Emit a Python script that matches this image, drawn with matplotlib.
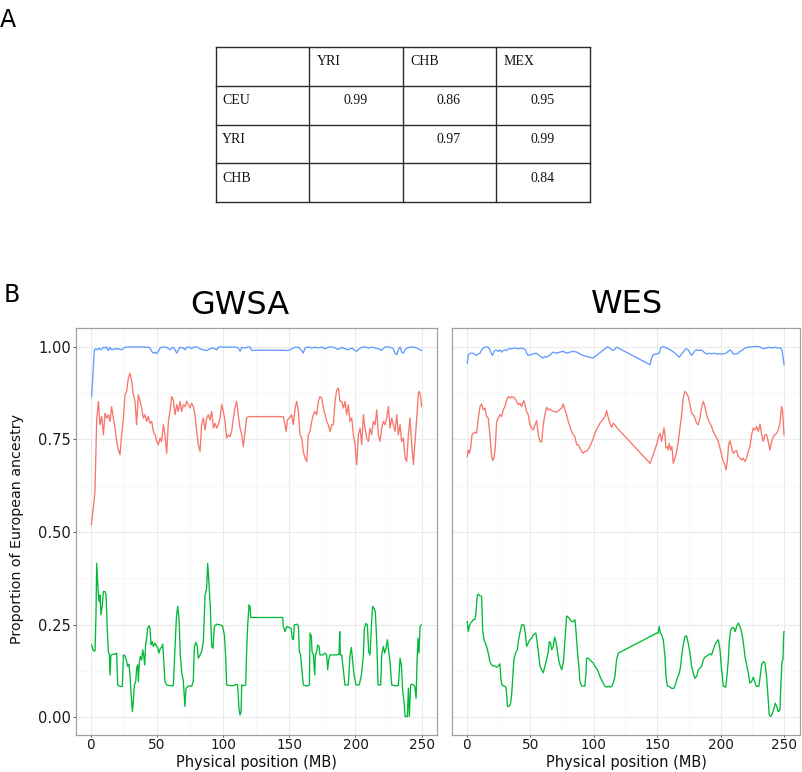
import matplotlib
matplotlib.use("Agg")
import matplotlib.pyplot as plt
from matplotlib.ticker import MultipleLocator, FormatStrFormatter

# ---------------- Panel A: table data ----------------
table_header = ["", "YRI", "CHB", "MEX"]
table_rows = ["CEU", "YRI", "CHB"]
table_values = [["0.99", "0.86", "0.95"],
                ["", "0.97", "0.99"],
                ["", "", "0.84"]]

# ---------------- Panel B: GWSA ----------------
gwsa_red_x = [0.5, 3.2, 4.5,
              5.8, 7.0, 8.3, 9.6, 10.8, 12.1, 13.3, 14.6, 15.8, 17.1,
              18.4, 19.6, 20.9, 22.1, 23.4, 24.7, 25.9, 27.2, 28.4, 29.7,
              31.0, 32.2, 33.5, 34.7, 36.0, 37.3, 38.5, 39.8, 41.0, 42.3,
              43.5, 44.8, 46.1, 47.3, 48.6, 49.8, 51.1, 52.4, 53.6, 54.9,
              56.1, 57.4, 58.7, 59.9, 61.2, 62.4, 63.7, 65.0, 66.2, 67.5,
              68.7, 70.0, 71.3, 72.5, 73.8, 75.0, 76.3, 77.5, 78.8, 80.1,
              81.3, 82.6, 83.8, 85.1, 86.4, 87.6, 88.9, 90.1, 91.4, 92.7,
              93.9, 95.2, 96.4, 97.7, 99.0, 100.2, 101.5, 102.7, 104.0, 105.2,
              106.5, 107.8, 109.0, 110.3, 111.5, 112.8, 114.1, 115.3, 116.6, 117.8,
              119.1,
              145.5, 146.8, 147.6, 148.6, 150.1, 151.8,
              153.1, 154.4, 155.6, 156.9, 158.1, 159.4, 160.6, 161.9, 163.2, 164.4,
              165.7, 166.9, 168.2, 169.5, 170.7, 172.0, 173.2, 174.5, 175.8, 177.0,
              178.3, 179.5, 180.8, 182.1, 183.3, 184.6, 185.8, 187.1, 188.3, 189.6,
              190.9, 192.1, 193.4, 194.6, 195.9, 197.2, 198.4, 199.7, 200.9, 202.2,
              203.5, 204.7, 206.0, 207.2, 208.5, 209.8, 211.0, 212.3, 213.5, 214.8,
              216.1, 217.3, 218.6, 219.8, 221.1, 222.3, 223.6, 224.9, 226.1, 227.4,
              228.6, 229.9, 231.2, 232.4, 233.7, 234.9, 236.2, 237.5, 238.7, 240.0,
              241.2, 242.5, 243.8, 245.0, 246.3, 247.5,
              248.3, 249.3, 250.0]
gwsa_red_y = [0.520, 0.605, 0.800,
              0.852, 0.789, 0.811, 0.762, 0.820, 0.807, 0.816, 0.798, 0.838, 0.807,
              0.780, 0.744, 0.721, 0.708, 0.762, 0.807, 0.870, 0.879, 0.915, 0.928,
              0.906, 0.870, 0.852, 0.789, 0.870, 0.852, 0.834, 0.807, 0.816, 0.798,
              0.811, 0.793, 0.798, 0.771, 0.762, 0.744, 0.735, 0.753, 0.744, 0.789,
              0.762, 0.712, 0.798, 0.825, 0.865, 0.856, 0.816, 0.843, 0.825, 0.852,
              0.825, 0.843, 0.838, 0.852, 0.843, 0.834, 0.847, 0.838, 0.816, 0.771,
              0.735, 0.717, 0.789, 0.807, 0.775, 0.807, 0.816, 0.802, 0.825, 0.780,
              0.793, 0.780, 0.789, 0.807, 0.843, 0.825, 0.798, 0.753, 0.762, 0.757,
              0.771, 0.807, 0.834, 0.852, 0.816, 0.780, 0.762, 0.730, 0.771, 0.807,
              0.811,
              0.811, 0.789, 0.771, 0.802, 0.807, 0.816,
              0.789, 0.834, 0.852, 0.825, 0.762, 0.753, 0.717, 0.699, 0.690, 0.762,
              0.771, 0.798, 0.816, 0.825, 0.816, 0.852, 0.865, 0.861, 0.834, 0.816,
              0.798, 0.789, 0.771, 0.789, 0.789, 0.852, 0.883, 0.888, 0.852, 0.852,
              0.834, 0.852, 0.816, 0.843, 0.798, 0.807, 0.762, 0.735, 0.681, 0.762,
              0.780, 0.735, 0.816, 0.780, 0.753, 0.744, 0.780, 0.762, 0.798, 0.789,
              0.829, 0.762, 0.744, 0.780, 0.798, 0.789, 0.807, 0.838, 0.780, 0.807,
              0.789, 0.771, 0.816, 0.762, 0.789, 0.744, 0.753, 0.699, 0.690, 0.762,
              0.807, 0.735, 0.681, 0.744, 0.807, 0.874,
              0.879, 0.861, 0.838]

gwsa_blue_x = [0.7, 2.8, 3.8, 5.3, 6.3, 7.8, 9.6, 10.8, 12.1, 13.3,
               14.6, 15.8, 18.4, 20.9, 23.4, 25.9, 28.4, 33.5, 38.5, 43.5,
               44.8, 46.1, 47.3, 48.6, 49.8, 51.1, 52.4, 54.9, 57.4, 59.9,
               61.2, 62.4, 63.7, 65.0, 66.2, 67.5, 70.0, 71.3, 72.5, 75.0,
               76.3, 77.5, 80.1, 82.6, 85.1, 87.6, 90.1, 92.7, 95.2, 96.4,
               99.0, 101.5, 104.0, 106.5, 109.0, 111.5, 112.8, 114.1, 116.6, 119.1,
               120.4, 121.6,
               145.5, 148.1, 150.6, 153.1, 154.4, 156.9, 158.1, 159.4, 160.6, 161.9,
               164.4, 166.9, 169.5, 172.0, 174.5, 177.0, 179.5, 182.1, 184.6, 187.1,
               189.6, 192.1, 194.6, 197.2, 199.7, 200.9, 202.2, 204.7, 207.2, 209.8,
               212.3, 214.8, 217.3, 219.8, 222.3, 224.9, 227.4, 228.6, 229.9, 231.2,
               232.4, 233.7, 234.9, 236.2, 237.5, 238.7, 241.2, 243.8, 246.3, 248.8,
               250.0]
gwsa_blue_y = [0.865, 0.991, 0.994, 0.991, 0.996, 0.991, 0.998, 0.996, 0.999, 0.989,
               0.998, 0.991, 0.994, 0.994, 0.991, 0.998, 0.999, 0.999, 0.999, 0.998,
               0.996, 0.987, 0.982, 0.985, 0.981, 0.987, 0.996, 0.999, 0.998, 0.991,
               0.996, 0.998, 0.991, 0.982, 0.991, 0.998, 0.996, 0.991, 0.998, 0.998,
               0.994, 0.998, 0.999, 0.994, 0.991, 0.989, 0.994, 0.996, 0.991, 0.998,
               0.999, 0.998, 0.999, 0.998, 0.999, 0.996, 0.987, 0.998, 0.996, 0.999,
               0.998, 0.990,
               0.990, 0.989, 0.991, 0.996, 0.998, 0.998, 0.994, 0.989, 0.982, 0.996,
               0.999, 0.996, 0.998, 0.996, 0.999, 0.994, 0.998, 0.999, 0.996, 0.992,
               0.998, 0.994, 0.991, 0.996, 0.989, 0.987, 0.992, 0.998, 0.999, 0.996,
               0.998, 0.996, 0.994, 0.990, 0.999, 0.999, 0.996, 0.994, 0.982, 0.978,
               0.991, 0.999, 0.985, 0.982, 0.991, 0.996, 0.998, 0.999, 0.996, 0.991,
               0.990]

gwsa_green_x = [0.7, 2.0, 3.3, 4.0, 4.5, 5.8, 6.3, 7.0, 7.8, 8.8,
                9.6, 10.8, 11.6, 12.3, 13.3, 14.1, 14.6, 15.3, 17.1, 18.4,
                19.6, 20.4, 22.1, 23.9, 24.7, 25.9, 27.2, 27.9, 28.9, 29.7,
                30.4, 31.5, 32.2, 33.0, 34.0, 34.7, 35.5, 36.0, 36.7, 37.5,
                38.5, 39.3, 40.0, 40.8, 41.5, 42.3, 43.0, 44.0, 44.8, 45.6,
                46.6, 47.3, 48.6, 49.8, 50.6, 51.6, 52.6, 53.6, 54.4, 55.1,
                56.1, 57.4, 59.9, 62.4, 63.7, 64.7, 65.7, 66.7, 67.7, 68.7,
                70.0, 71.2, 72.0, 73.8, 76.3, 77.5, 78.3, 79.3, 80.3, 81.3,
                82.6, 83.8, 85.1, 86.4, 87.6, 88.4, 89.4, 90.4, 91.4, 92.4,
                93.4, 95.2, 97.7, 99.5, 101.0, 102.0, 102.7, 105.2, 107.8, 110.3,
                111.0, 112.0, 112.8, 113.6, 114.1, 115.3, 117.1, 117.8, 118.6, 119.6,
                120.4, 120.9,
                145.0, 145.5, 146.8, 148.1, 150.1, 151.3, 152.3, 153.1, 153.8, 155.6,
                156.9, 157.6, 158.6, 159.4, 160.6, 163.2, 165.2, 165.7, 166.7, 167.2,
                168.2, 169.2, 169.7, 170.7, 171.5, 172.5, 173.2, 175.3, 177.0, 178.3,
                179.0, 179.8, 180.8, 183.3, 185.8, 187.6, 188.1, 188.6, 189.6, 192.1,
                194.6, 195.9, 196.9, 197.9, 198.9, 200.4, 202.9, 204.5, 206.0, 206.7,
                208.0, 209.0, 210.0, 211.0, 212.3, 213.0, 214.0, 215.0, 216.1, 217.1,
                219.1, 219.8, 221.1, 222.1, 223.1, 224.1, 225.1, 226.1, 227.4, 229.9,
                232.4, 233.7, 234.7, 235.7, 236.7, 237.5, 239.2, 240.0, 240.7, 241.7,
                242.8, 243.8, 244.8, 245.8, 246.5, 247.3, 248.0, 248.8, 249.8]
gwsa_green_y = [0.195, 0.179, 0.179, 0.276, 0.415, 0.330, 0.312, 0.330, 0.276, 0.303,
                0.339, 0.339, 0.330, 0.258, 0.177, 0.168, 0.114, 0.168, 0.170, 0.170,
                0.173, 0.087, 0.083, 0.083, 0.168, 0.166, 0.150, 0.137, 0.143, 0.114,
                0.069, 0.015, 0.042, 0.087, 0.096, 0.132, 0.141, 0.096, 0.146, 0.164,
                0.155, 0.182, 0.168, 0.141, 0.195, 0.213, 0.240, 0.247, 0.240, 0.195,
                0.204, 0.191, 0.200, 0.191, 0.188, 0.173, 0.186, 0.188, 0.197, 0.159,
                0.096, 0.087, 0.085, 0.085, 0.186, 0.267, 0.299, 0.267, 0.168, 0.123,
                0.096, 0.029, 0.078, 0.084, 0.084, 0.096, 0.188, 0.202, 0.195, 0.159,
                0.168, 0.177, 0.204, 0.330, 0.348, 0.415, 0.357, 0.294, 0.191, 0.186,
                0.245, 0.251, 0.249, 0.247, 0.222, 0.159, 0.087, 0.085, 0.085, 0.089,
                0.087, 0.024, 0.006, 0.015, 0.087, 0.085, 0.087, 0.177, 0.249, 0.303,
                0.299, 0.269,
                0.269, 0.245, 0.231, 0.245, 0.242, 0.240, 0.213, 0.209, 0.249, 0.251,
                0.247, 0.177, 0.168, 0.132, 0.087, 0.084, 0.087, 0.227, 0.218, 0.177,
                0.168, 0.114, 0.168, 0.177, 0.195, 0.191, 0.168, 0.168, 0.173, 0.168,
                0.128, 0.155, 0.168, 0.168, 0.168, 0.170, 0.231, 0.168, 0.168, 0.087,
                0.087, 0.168, 0.188, 0.150, 0.114, 0.087, 0.087, 0.114, 0.168, 0.240,
                0.253, 0.249, 0.177, 0.168, 0.263, 0.299, 0.294, 0.285, 0.204, 0.087,
                0.087, 0.168, 0.191, 0.173, 0.186, 0.209, 0.177, 0.150, 0.087, 0.085,
                0.085, 0.159, 0.141, 0.069, 0.042, 0.002, 0.002, 0.078, 0.002, 0.087,
                0.089, 0.087, 0.083, 0.051, 0.150, 0.213, 0.173, 0.245, 0.249]

# ---------------- Panel B: WES (position MB, proportion) ----------------
wes_blue = [(0.5, 0.955), (1.3, 0.978), (2.6, 0.982), (5.2, 0.982), (6.5, 0.978),
            (7.8, 0.976), (9.2, 0.980), (10.5, 0.982), (11.8, 0.991), (13.1, 0.996),
            (14.4, 0.998), (15.7, 0.999), (17.0, 0.998), (18.3, 0.991), (19.6, 0.980),
            (20.4, 0.976), (21.5, 0.987), (23.1, 0.991), (24.9, 0.987), (26.2, 0.991),
            (27.5, 0.985), (28.8, 0.989), (30.1, 0.991), (31.5, 0.989), (32.8, 0.994),
            (35.4, 0.994), (38.0, 0.996), (40.6, 0.994), (43.3, 0.996), (45.1, 0.994),
            (46.4, 0.991), (47.2, 0.982), (48.5, 0.976), (50.3, 0.978), (52.4, 0.980),
            (54.5, 0.982), (56.4, 0.978), (58.2, 0.973), (59.8, 0.969), (61.6, 0.973),
            (62.9, 0.971), (64.3, 0.975), (65.6, 0.976), (66.9, 0.982), (68.2, 0.985),
            (70.8, 0.982), (73.4, 0.985), (76.1, 0.987), (78.7, 0.982), (81.3, 0.985),
            (83.9, 0.987), (86.6, 0.985), (89.2, 0.980), (91.8, 0.976), (94.4, 0.973),
            (97.0, 0.971), (99.2, 0.969), (101.0, 0.973), (103.6, 0.980), (106.2, 0.987),
            (108.9, 0.994), (110.7, 0.999), (112.8, 0.996), (114.4, 0.990), (116.0, 0.991),
            (118.0, 0.998), (119.4, 0.996),
            (144.3, 0.951), (145.6, 0.969), (146.9, 0.978), (149.5, 0.980), (151.6, 0.982),
            (152.7, 0.996), (154.3, 1.000), (156.1, 0.998), (158.7, 0.994), (161.3, 0.989),
            (164.0, 0.982), (165.8, 0.976), (167.4, 0.971), (168.4, 0.976), (170.5, 0.985),
            (171.8, 0.991), (173.1, 0.994), (174.4, 0.991), (175.8, 0.982), (177.1, 0.976),
            (178.4, 0.982), (179.7, 0.989), (181.5, 0.991), (183.6, 0.989), (184.9, 0.991),
            (186.8, 0.985), (188.9, 0.980), (191.0, 0.982), (192.8, 0.980), (194.7, 0.982),
            (196.8, 0.980), (199.4, 0.980), (202.0, 0.980), (204.1, 0.982), (206.0, 0.987),
            (207.3, 0.991), (208.6, 0.987), (209.9, 0.980), (212.0, 0.980), (213.8, 0.982),
            (215.1, 0.987), (217.2, 0.991), (219.1, 0.996), (221.7, 0.998), (224.3, 0.999),
            (227.0, 1.000), (229.6, 1.000), (231.4, 0.998), (233.5, 0.994), (235.6, 0.996),
            (238.2, 0.998), (240.1, 0.996), (242.7, 0.998), (245.3, 0.996), (247.1, 0.996),
            (248.2, 0.991), (249.2, 0.969), (249.8, 0.951)]

wes_red = [(0.5, 0.703), (1.3, 0.721), (2.1, 0.712), (3.1, 0.726), (4.2, 0.762),
           (5.2, 0.766), (6.5, 0.769), (7.8, 0.766), (9.2, 0.807), (10.5, 0.838),
           (11.8, 0.845), (13.1, 0.829), (14.4, 0.834), (15.7, 0.811), (17.0, 0.807),
           (18.3, 0.762), (19.6, 0.708), (20.4, 0.692), (21.5, 0.699), (22.5, 0.726),
           (23.6, 0.798), (24.9, 0.807), (26.2, 0.816), (27.5, 0.811), (28.8, 0.829),
           (30.1, 0.838), (31.5, 0.856), (32.8, 0.865), (34.1, 0.861), (35.4, 0.865),
           (36.7, 0.863), (38.0, 0.861), (39.3, 0.852), (40.6, 0.843), (41.9, 0.847),
           (43.3, 0.838), (44.1, 0.847), (45.1, 0.854), (46.2, 0.838), (47.2, 0.825),
           (48.5, 0.816), (49.8, 0.789), (51.1, 0.780), (52.4, 0.775), (53.8, 0.789),
           (55.1, 0.800), (56.4, 0.762), (57.7, 0.744), (59.0, 0.742), (60.3, 0.789),
           (61.6, 0.816), (62.9, 0.836), (64.3, 0.829), (65.6, 0.832), (66.9, 0.827),
           (68.7, 0.825), (70.8, 0.823), (72.9, 0.829), (74.8, 0.834), (76.1, 0.845),
           (77.4, 0.829), (78.7, 0.816), (80.0, 0.798), (81.3, 0.784), (82.6, 0.771),
           (83.9, 0.762), (85.2, 0.757), (86.6, 0.735), (87.9, 0.735), (89.2, 0.726),
           (90.5, 0.717), (91.8, 0.712), (93.1, 0.717), (94.9, 0.719), (97.0, 0.730),
           (99.2, 0.748), (101.0, 0.766), (102.8, 0.780), (104.9, 0.793), (107.0, 0.802),
           (108.9, 0.811), (110.2, 0.827), (111.5, 0.807), (112.8, 0.793), (114.1, 0.782),
           (115.4, 0.793), (116.7, 0.789), (118.0, 0.782),
           (144.3, 0.685), (146.9, 0.708), (149.5, 0.735), (150.8, 0.753), (152.2, 0.766),
           (153.5, 0.744), (154.8, 0.771), (155.3, 0.780), (156.1, 0.762), (156.9, 0.726),
           (158.0, 0.730), (158.7, 0.721), (159.5, 0.739), (160.6, 0.721), (161.6, 0.730),
           (162.6, 0.685), (164.0, 0.699), (165.3, 0.717), (166.6, 0.744), (167.9, 0.780),
           (169.2, 0.816), (170.5, 0.861), (171.8, 0.879), (173.1, 0.874), (174.4, 0.865),
           (175.8, 0.843), (177.1, 0.820), (178.4, 0.816), (179.7, 0.807), (181.0, 0.793),
           (182.3, 0.789), (183.6, 0.807), (184.9, 0.834), (186.3, 0.852), (187.6, 0.838),
           (188.9, 0.816), (190.2, 0.802), (191.5, 0.793), (192.8, 0.784), (194.1, 0.771),
           (195.4, 0.762), (196.8, 0.753), (198.1, 0.744), (199.4, 0.726), (200.7, 0.708),
           (202.0, 0.690), (203.3, 0.681), (204.1, 0.667), (205.2, 0.690), (206.2, 0.735),
           (207.3, 0.746), (208.6, 0.726), (209.9, 0.712), (211.2, 0.717), (212.5, 0.719),
           (213.8, 0.703), (215.1, 0.699), (216.4, 0.694), (217.7, 0.699), (219.1, 0.690),
           (220.4, 0.699), (221.7, 0.717), (223.0, 0.730), (224.3, 0.762), (225.6, 0.780),
           (227.0, 0.775), (228.2, 0.784), (229.6, 0.771), (230.9, 0.791), (232.2, 0.762),
           (233.5, 0.744), (234.8, 0.762), (236.1, 0.762), (237.4, 0.744), (238.7, 0.721),
           (240.1, 0.744), (241.4, 0.757), (242.7, 0.762), (244.0, 0.766), (245.3, 0.775),
           (246.6, 0.793), (247.9, 0.838), (248.7, 0.825), (249.8, 0.762)]

wes_green = [(0.5, 0.258), (1.3, 0.231), (2.1, 0.245), (3.1, 0.254), (4.2, 0.258),
             (5.2, 0.263), (6.5, 0.264), (7.3, 0.281), (8.4, 0.330), (9.2, 0.332),
             (10.5, 0.327), (11.8, 0.326), (12.6, 0.236), (13.6, 0.209), (14.7, 0.200),
             (15.7, 0.191), (17.0, 0.173), (18.3, 0.150), (19.6, 0.141), (21.0, 0.138),
             (22.3, 0.138), (23.6, 0.135), (24.9, 0.138), (26.2, 0.144), (27.0, 0.101),
             (27.8, 0.087), (29.4, 0.084), (30.9, 0.081), (31.5, 0.060), (32.2, 0.029),
             (33.6, 0.030), (34.6, 0.038), (35.4, 0.060), (36.2, 0.101), (37.2, 0.155),
             (38.5, 0.173), (39.9, 0.182), (40.9, 0.209), (41.9, 0.227), (43.3, 0.249),
             (45.1, 0.249), (46.2, 0.227), (47.2, 0.191), (48.5, 0.200), (49.8, 0.209),
             (51.1, 0.213), (52.4, 0.222), (54.5, 0.227), (55.6, 0.200), (56.6, 0.173),
             (57.7, 0.137), (59.0, 0.128), (60.3, 0.120), (61.6, 0.137), (62.9, 0.155),
             (64.3, 0.177), (65.0, 0.204), (66.1, 0.200), (66.9, 0.182), (68.2, 0.191),
             (69.2, 0.216), (70.3, 0.204), (71.3, 0.182), (72.4, 0.155), (73.4, 0.141),
             (74.8, 0.128), (76.1, 0.146), (77.4, 0.209), (78.7, 0.273), (80.0, 0.270),
             (81.3, 0.264), (82.6, 0.258), (83.9, 0.258), (85.2, 0.263), (86.0, 0.236),
             (87.1, 0.182), (88.1, 0.146), (89.2, 0.096), (90.5, 0.084), (93.1, 0.084),
             (93.9, 0.119), (94.4, 0.159), (95.7, 0.159), (97.0, 0.155), (98.4, 0.150),
             (99.7, 0.146), (101.0, 0.137), (102.3, 0.132), (103.6, 0.123), (104.9, 0.110),
             (106.2, 0.101), (107.5, 0.092), (108.9, 0.083), (110.2, 0.081), (111.5, 0.084),
             (112.8, 0.081), (114.1, 0.083), (115.4, 0.092), (116.7, 0.110), (118.0, 0.155),
             (119.4, 0.173),
             (146.9, 0.222), (149.5, 0.227), (150.8, 0.227), (151.6, 0.245), (152.4, 0.227),
             (153.5, 0.222), (154.8, 0.209), (156.1, 0.164), (156.9, 0.110), (158.0, 0.084),
             (159.5, 0.083), (161.3, 0.078), (163.2, 0.078), (164.7, 0.092), (165.8, 0.105),
             (167.4, 0.119), (168.4, 0.137), (169.2, 0.164), (170.5, 0.195), (171.8, 0.218),
             (173.1, 0.219), (174.4, 0.200), (175.8, 0.173), (177.1, 0.137), (178.4, 0.119),
             (179.7, 0.105), (181.0, 0.110), (182.3, 0.128), (183.6, 0.132), (184.9, 0.137),
             (186.3, 0.155), (187.6, 0.162), (188.9, 0.165), (190.2, 0.168), (191.5, 0.171),
             (192.8, 0.168), (194.1, 0.182), (195.4, 0.195), (196.8, 0.204), (198.1, 0.209),
             (199.4, 0.182), (200.7, 0.128), (202.0, 0.084), (203.9, 0.081), (204.6, 0.101),
             (206.0, 0.155), (206.7, 0.204), (207.8, 0.236), (209.3, 0.242), (210.4, 0.240),
             (211.5, 0.231), (212.5, 0.245), (213.8, 0.254), (215.1, 0.245), (216.4, 0.231),
             (217.7, 0.204), (219.1, 0.164), (220.4, 0.141), (221.7, 0.119), (223.0, 0.092),
             (224.3, 0.096), (225.6, 0.108), (227.0, 0.092), (228.2, 0.083), (230.1, 0.084),
             (231.4, 0.119), (232.2, 0.141), (233.5, 0.150), (234.8, 0.146), (236.1, 0.110),
             (237.4, 0.047), (238.2, 0.006), (239.5, 0.002), (240.8, 0.011), (241.9, 0.024),
             (243.0, 0.038), (244.0, 0.029), (245.3, 0.015), (246.6, 0.020), (247.4, 0.092),
             (248.2, 0.150), (249.0, 0.155), (249.5, 0.218), (249.8, 0.231)]

# ---------------- styling ----------------
RED, GREEN, BLUE = "#F8766D", "#00BA38", "#619CFF"
W, H = 802, 772

fig = plt.figure(figsize=(W / 100, H / 100), dpi=100)
fig.patch.set_facecolor("white")


def fx(px):
    return px / W


def fy(py):
    return 1 - py / H


# ---- Panel A: table ----
tx0, tx1, ty0, ty1 = 215.7, 590.0, 46.7, 202.3
tax = fig.add_axes([fx(tx0), fy(ty1), (tx1 - tx0) / W, (ty1 - ty0) / H])
ncol = len(table_header)
nrow = len(table_rows) + 1
tax.set_xlim(0, ncol)
tax.set_ylim(nrow, 0)
tax.axis("off")
for i in range(nrow + 1):
    tax.plot([0, ncol], [i, i], color="#2b2b2b", lw=1.0, clip_on=False,
             solid_capstyle="projecting")
for j in range(ncol + 1):
    tax.plot([j, j], [0, nrow], color="#2b2b2b", lw=1.0, clip_on=False,
             solid_capstyle="projecting")
tfont = dict(family="Liberation Serif", fontsize=10, color="#111111")
for j, lab in enumerate(table_header):
    tax.text(j + 0.08, 0.39, lab, ha="left", va="center", **tfont)
for i, lab in enumerate(table_rows):
    tax.text(0.07, i + 1 + 0.39, lab, ha="left", va="center", **tfont)
    for j, v in enumerate(table_values[i]):
        tax.text(j + 1 + 0.49, i + 1 + 0.39, v, ha="center", va="center", **tfont)

fig.text(fx(0), fy(27), "A", fontsize=17, ha="left", va="baseline")
fig.text(fx(4), fy(302), "B", fontsize=17, ha="left", va="baseline")

# ---- Panel B axes ----
ax_top, ax_bot = 328.0, 735.0
ax_h = ax_bot - ax_top
ax1 = fig.add_axes([fx(76), fy(ax_bot), (437 - 76) / W, ax_h / H])
ax2 = fig.add_axes([fx(452.3), fy(ax_bot), (800 - 452.3) / W, ax_h / H])


def style(ax, xlim, show_y):
    ax.set_xlim(*xlim)
    ax.set_ylim(-0.048, 1.05)
    ax.xaxis.set_major_locator(MultipleLocator(50))
    ax.xaxis.set_minor_locator(MultipleLocator(25))
    ax.yaxis.set_major_locator(MultipleLocator(0.25))
    ax.yaxis.set_minor_locator(MultipleLocator(0.125))
    ax.yaxis.set_major_formatter(FormatStrFormatter("%.2f"))
    ax.grid(which="major", color="#EBEBEB", lw=0.8)
    ax.grid(which="minor", color="#F5F5F5", lw=0.5)
    ax.set_axisbelow(True)
    ax.tick_params(which="minor", length=0)
    ax.tick_params(axis="y", which="major", length=2.2, width=0.7, color="#555555",
                   labelsize=10.5, labelcolor="#1a1a1a", pad=1.5)
    ax.tick_params(axis="x", which="major", length=1.5, width=0.7, color="#555555",
                   labelsize=9.8, labelcolor="#1a1a1a", pad=1.0)
    if not show_y:
        ax.tick_params(axis="y", left=False, labelleft=False)
    for s in ax.spines.values():
        s.set_color("#A0A0A0")
        s.set_linewidth(0.9)
    ax.set_xlabel("Physical position (MB)", fontsize=10.5, color="#111111",
                  va="top")
    ax.xaxis.set_label_coords(0.5, -(754.5 - ax_bot) / ax_h)


style(ax1, (-11.1, 261.6), True)
style(ax2, (-11.3, 262.4), False)

lw = 0.95
ax1.plot(gwsa_blue_x, gwsa_blue_y, color=BLUE, lw=lw)
ax1.plot(gwsa_red_x, gwsa_red_y, color=RED, lw=lw)
ax1.plot(gwsa_green_x, gwsa_green_y, color=GREEN, lw=lw)

for series, col in ((wes_blue, BLUE), (wes_red, RED), (wes_green, GREEN)):
    xs, ys = zip(*series)
    ax2.plot(xs, ys, color=col, lw=lw)

fig.text(fx(240), fy(314), "GWSA", fontsize=23, ha="center", va="baseline")
fig.text(fx(626.5), fy(313), "WES", fontsize=23, ha="center", va="baseline")

fig.text(fx(17), fy(529), "Proportion of European ancestry", rotation=90,
         fontsize=10.3, ha="center", va="center", color="#111111")

fig.savefig("out.png", dpi=100, facecolor="white")
